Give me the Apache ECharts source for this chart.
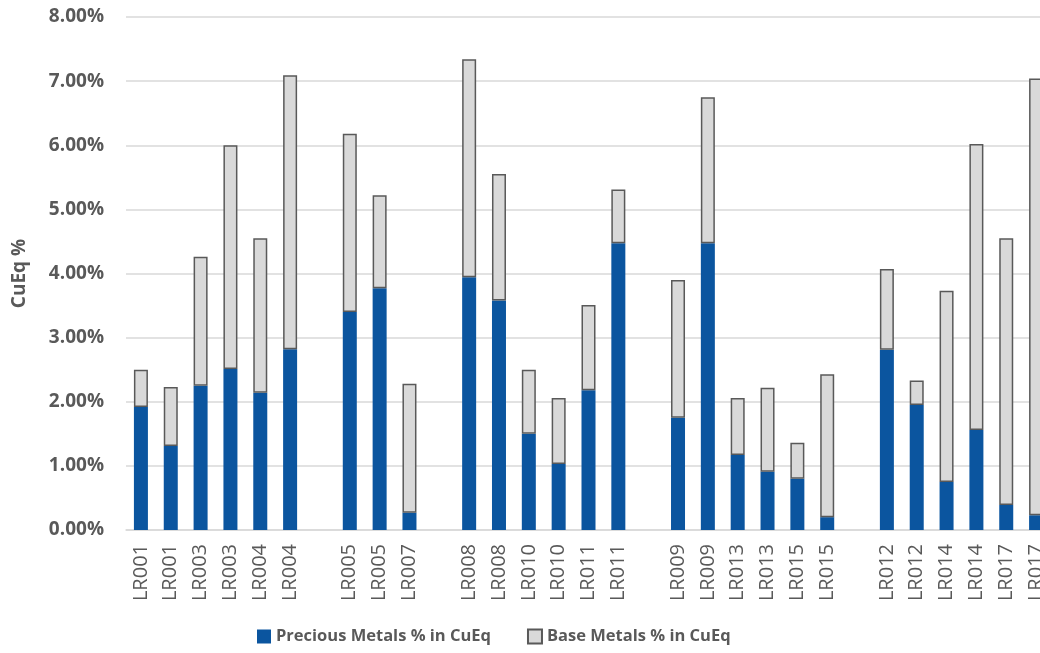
<!DOCTYPE html>
<html>
<head>
<meta charset="utf-8">
<script src="https://cdn.jsdelivr.net/npm/echarts@6/dist/echarts.min.js"></script>
<style>
  html, body { margin: 0; padding: 0; background: #ffffff; overflow: hidden; }
  /* the plot runs slightly past the right edge of the page, so the last column is cut */
  #chart { width: 1051px; height: 653px; }
</style>
</head>
<body>
<div id="chart"></div>
<script>
// Drill hole labels; empty strings separate the groups of holes
const categories = [
  'LR001', 'LR001', 'LR003', 'LR003', 'LR004', 'LR004', '',
  'LR005', 'LR005', 'LR007', '',
  'LR008', 'LR008', 'LR010', 'LR010', 'LR011', 'LR011', '',
  'LR009', 'LR009', 'LR013', 'LR013', 'LR015', 'LR015', '',
  'LR012', 'LR012', 'LR014', 'LR014', 'LR017', 'LR017'
];

// Precious metals share of CuEq (%), '-' for the spacer columns
const preciousMetals = [
  1.92, 1.31, 2.25, 2.51, 2.14, 2.82, '-',
  3.40, 3.77, 0.27, '-',
  3.94, 3.58, 1.50, 1.03, 2.18, 4.47, '-',
  1.75, 4.47, 1.17, 0.91, 0.80, 0.20, '-',
  2.81, 1.95, 0.75, 1.56, 0.39, 0.23
];

// Base metals share of CuEq (%), stacked on top of the precious metals
const baseMetals = [
  0.58, 0.92, 2.01, 3.49, 2.41, 4.27, '-',
  2.78, 1.45, 2.01, '-',
  3.40, 1.97, 1.00, 1.03, 1.33, 0.84, '-',
  2.15, 2.28, 0.89, 1.31, 0.56, 2.23, '-',
  1.26, 0.38, 2.98, 4.46, 4.16, 6.81
];

const yTicks = { min: 0, max: 8, interval: 1 };

const textGrey = '#595959';
const chart = echarts.init(document.getElementById('chart'), null, { renderer: 'canvas' });

chart.setOption({
  animation: false,
  backgroundColor: '#ffffff',
  grid: { left: 126, right: 0, top: 17, bottom: 123, containLabel: false },
  legend: {
    bottom: 3,
    left: 252,
    itemWidth: 14,
    itemHeight: 14,
    itemGap: 36,
    icon: 'rect',
    textStyle: { color: textGrey, fontFamily: 'Open Sans', fontWeight: 'bold', fontSize: 16.5 },
    data: ['Precious Metals % in CuEq', 'Base Metals % in CuEq']
  },
  xAxis: {
    type: 'category',
    data: categories,
    axisTick: { show: false },
    axisLine: { lineStyle: { color: '#d9d9d9', width: 1.5 } },
    axisLabel: {
      interval: 0,
      rotate: 90,
      margin: 14,
      color: textGrey,
      fontFamily: 'Open Sans',
      fontSize: 20
    }
  },
  yAxis: {
    type: 'value',
    min: yTicks.min,
    max: yTicks.max,
    interval: yTicks.interval,
    name: 'CuEq %',
    nameLocation: 'middle',
    nameRotate: 90,
    nameGap: 97,
    nameTextStyle: { color: textGrey, fontFamily: 'Open Sans', fontWeight: 'bold', fontSize: 19 },
    axisLine: { show: false },
    axisTick: { show: false },
    splitLine: { lineStyle: { color: '#d9d9d9', width: 1.5 } },
    axisLabel: {
      margin: 22,
      color: textGrey,
      fontFamily: 'Open Sans',
      fontWeight: 'bold',
      fontSize: 19,
      formatter: v => v.toFixed(2) + '%'
    }
  },
  series: [
    {
      name: 'Precious Metals % in CuEq',
      type: 'bar',
      stack: 'cueq',
      barWidth: 14,
      data: preciousMetals,
      itemStyle: { color: '#0b559f' }
    },
    {
      name: 'Base Metals % in CuEq',
      type: 'bar',
      stack: 'cueq',
      barWidth: 14,
      data: baseMetals,
      itemStyle: { color: '#d9d9d9', borderColor: '#595959', borderWidth: 1.5 }
    }
  ]
});
</script>
</body>
</html>
